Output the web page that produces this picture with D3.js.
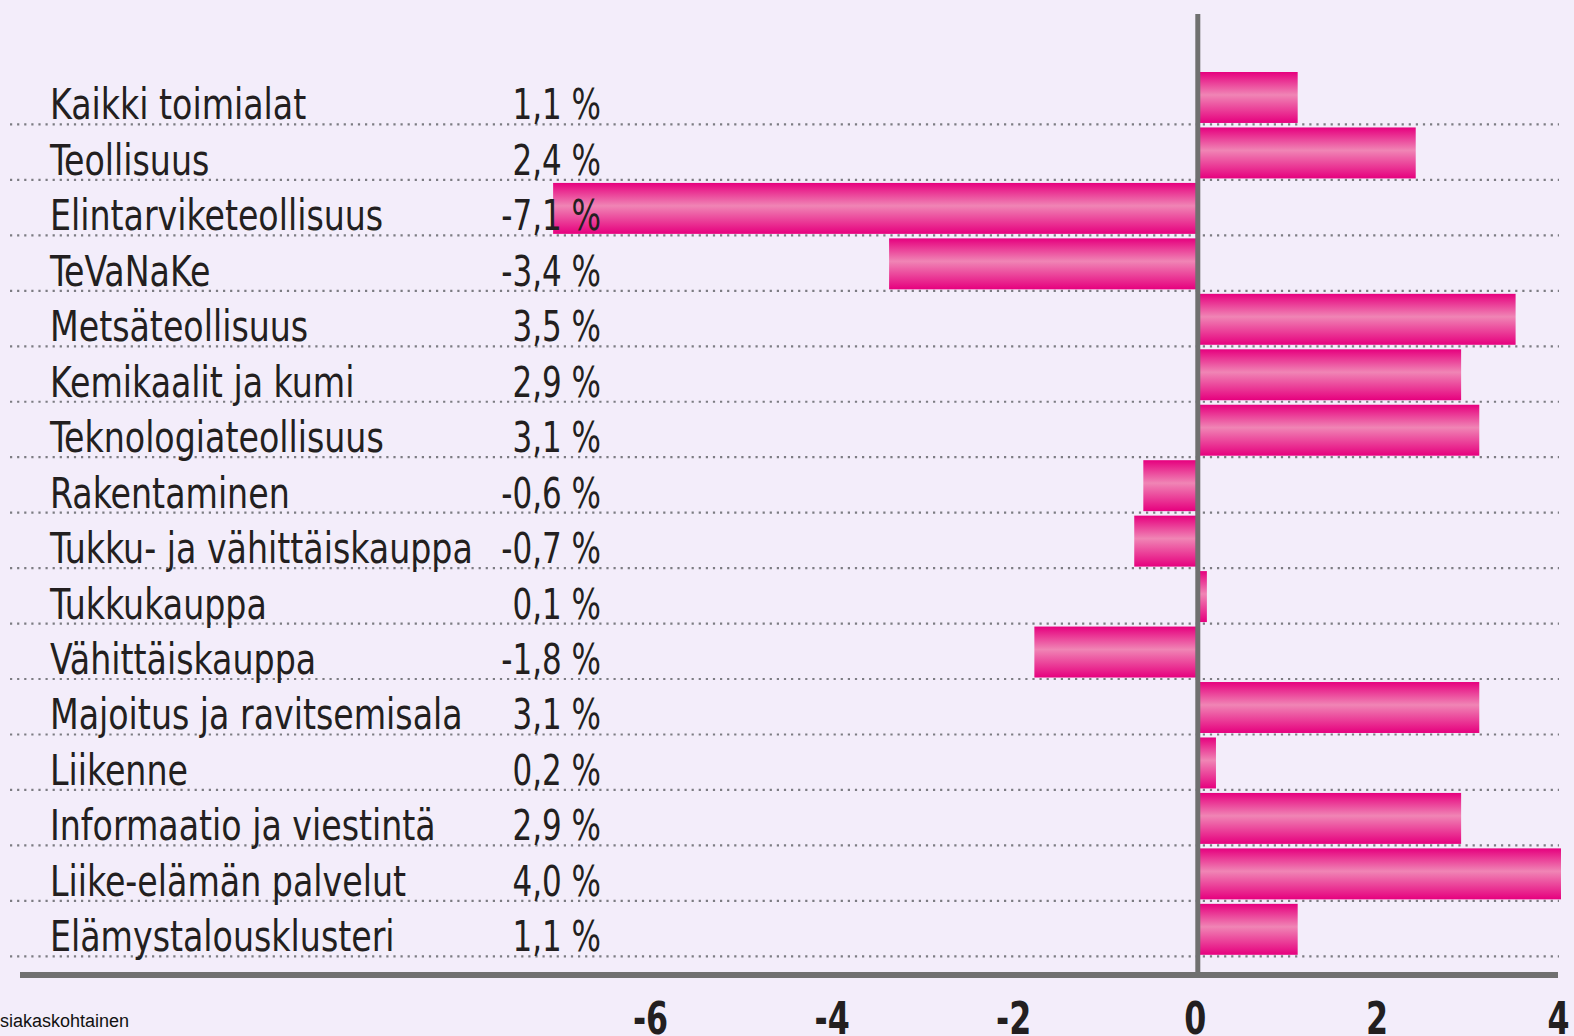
<!DOCTYPE html>
<html lang="fi">
<head>
    <meta charset="UTF-8">
    <title>Toimialat</title>
    <script src="https://d3js.org/d3.v7.min.js"></script>
    <style>
        body { margin: 0; background: #f3edfa; }
        svg { display: block; }
        .lbl { font-family: 'Liberation Sans Narrow', 'DejaVu Sans Condensed', sans-serif; font-size: 42px; fill: #231f20; }
        .tick text { font-family: 'Liberation Sans Narrow', 'DejaVu Sans Condensed', sans-serif; font-weight: bold; font-size: 44px; fill: #231f20; }
        .src { font-family: 'Liberation Sans', Arial, sans-serif; font-size: 18px; fill: #111; }
    </style>
</head>
<body>
<script>

    const width  = 1574;
    const height = 1036;

    const categories = [
        'Kaikki toimialat', 'Teollisuus', 'Elintarviketeollisuus', 'TeVaNaKe',
        'Metsäteollisuus', 'Kemikaalit ja kumi', 'Teknologiateollisuus', 'Rakentaminen',
        'Tukku- ja vähittäiskauppa', 'Tukkukauppa', 'Vähittäiskauppa',
        'Majoitus ja ravitsemisala', 'Liikenne', 'Informaatio ja viestintä',
        'Liike-elämän palvelut', 'Elämystalousklusteri'
    ];
    const values = [1.1, 2.4, -7.1, -3.4, 3.5, 2.9, 3.1, -0.6, -0.7, 0.1, -1.8, 3.1, 0.2, 2.9, 4.0, 1.1];
    const tickValues = [-6, -4, -2, 0, 2, 4];

    const data = categories.map((c, i) => ({name: c, value: values[i]}));

    const x = d3.scaleLinear()
            .domain([-6, 4])
            .range([653, 1561]);
    const y = d3.scaleBand()
            .domain(categories)
            .range([69, 956.3]);

    const fmt = v => d3.format('.1f')(v).replace('.', ',').replace('−', '-') + ' %';

    const svg = d3.select('body')
            .append('svg')
            .attr('width', width)
            .attr('height', height);

    svg.append('rect')
            .attr('width', width).attr('height', height)
            .attr('fill', '#f3edfa');

    const grad = svg.append('defs')
            .append('linearGradient')
            .attr('id', 'barGrad')
            .attr('x1', 0).attr('y1', 0).attr('x2', 0).attr('y2', 1);
    grad.append('stop').attr('offset', '0%').attr('stop-color', '#e6007e');
    grad.append('stop').attr('offset', '45%').attr('stop-color', '#f085b5');
    grad.append('stop').attr('offset', '100%').attr('stop-color', '#e6007e');

    // dotted separators under each row
    svg.selectAll('.sep')
            .data(categories)
            .enter()
            .append('line').attr('class', 'sep')
            .attr('x1', 10)
            .attr('x2', 1559)
            .attr('y1', d => y(d) + y.bandwidth())
            .attr('y2', d => y(d) + y.bandwidth())
            .attr('stroke', '#7c7c82')
            .attr('stroke-width', 2.2)
            .attr('stroke-dasharray', '2.2,4.9');

    svg.selectAll('.bar')
            .data(data)
            .enter()
            .append('rect').attr('class', 'bar')
            .attr('x', d => x(Math.min(0, d.value)))
            .attr('width', d => Math.abs(x(d.value) - x(0)))
            .attr('y', d => y(d.name) + 3)
            .attr('height', y.bandwidth() - 4.5)
            .attr('fill', 'url(#barGrad)');

    // narrow the labels so they look like the condensed original face
    svg.selectAll('.name')
            .data(data)
            .enter()
            .append('text').attr('class', 'lbl')
            .attr('transform', d => 'translate(50,' + (y(d.name) + y.bandwidth() - 5) + ') scale(0.88,1)')
            .text(d => d.name);

    svg.selectAll('.val')
            .data(data)
            .enter()
            .append('text').attr('class', 'lbl')
            .attr('transform', d => 'translate(601,' + (y(d.name) + y.bandwidth() - 5) + ') scale(0.82,1)')
            .attr('text-anchor', 'end')
            .text(d => fmt(d.value));

    // zero line
    svg.append('line')
            .attr('x1', x(0)).attr('x2', x(0))
            .attr('y1', 14).attr('y2', 975)
            .attr('stroke', '#707070')
            .attr('stroke-width', 5);

    // bottom axis
    svg.append('line')
            .attr('x1', 20).attr('x2', 1558)
            .attr('y1', 975).attr('y2', 975)
            .attr('stroke', '#707070')
            .attr('stroke-width', 6);

    const axis = svg.append('g')
            .attr('transform', 'translate(0,990)')
            .call(d3.axisBottom(x)
                    .tickValues(tickValues)
                    .tickSize(0)
                    .tickPadding(12)
                    .tickFormat(d => d3.format('d')(d).replace('−', '-')));
    axis.select('.domain').remove();
    axis.selectAll('.tick text')
            .attr('dy', '0.72em')
            .attr('transform', 'translate(-3,0) scale(0.8,1)');

    svg.append('text')
            .attr('class', 'src')
            .attr('x', 0)
            .attr('y', 1027)
            .text('siakaskohtainen');

</script>
</body>
</html>
